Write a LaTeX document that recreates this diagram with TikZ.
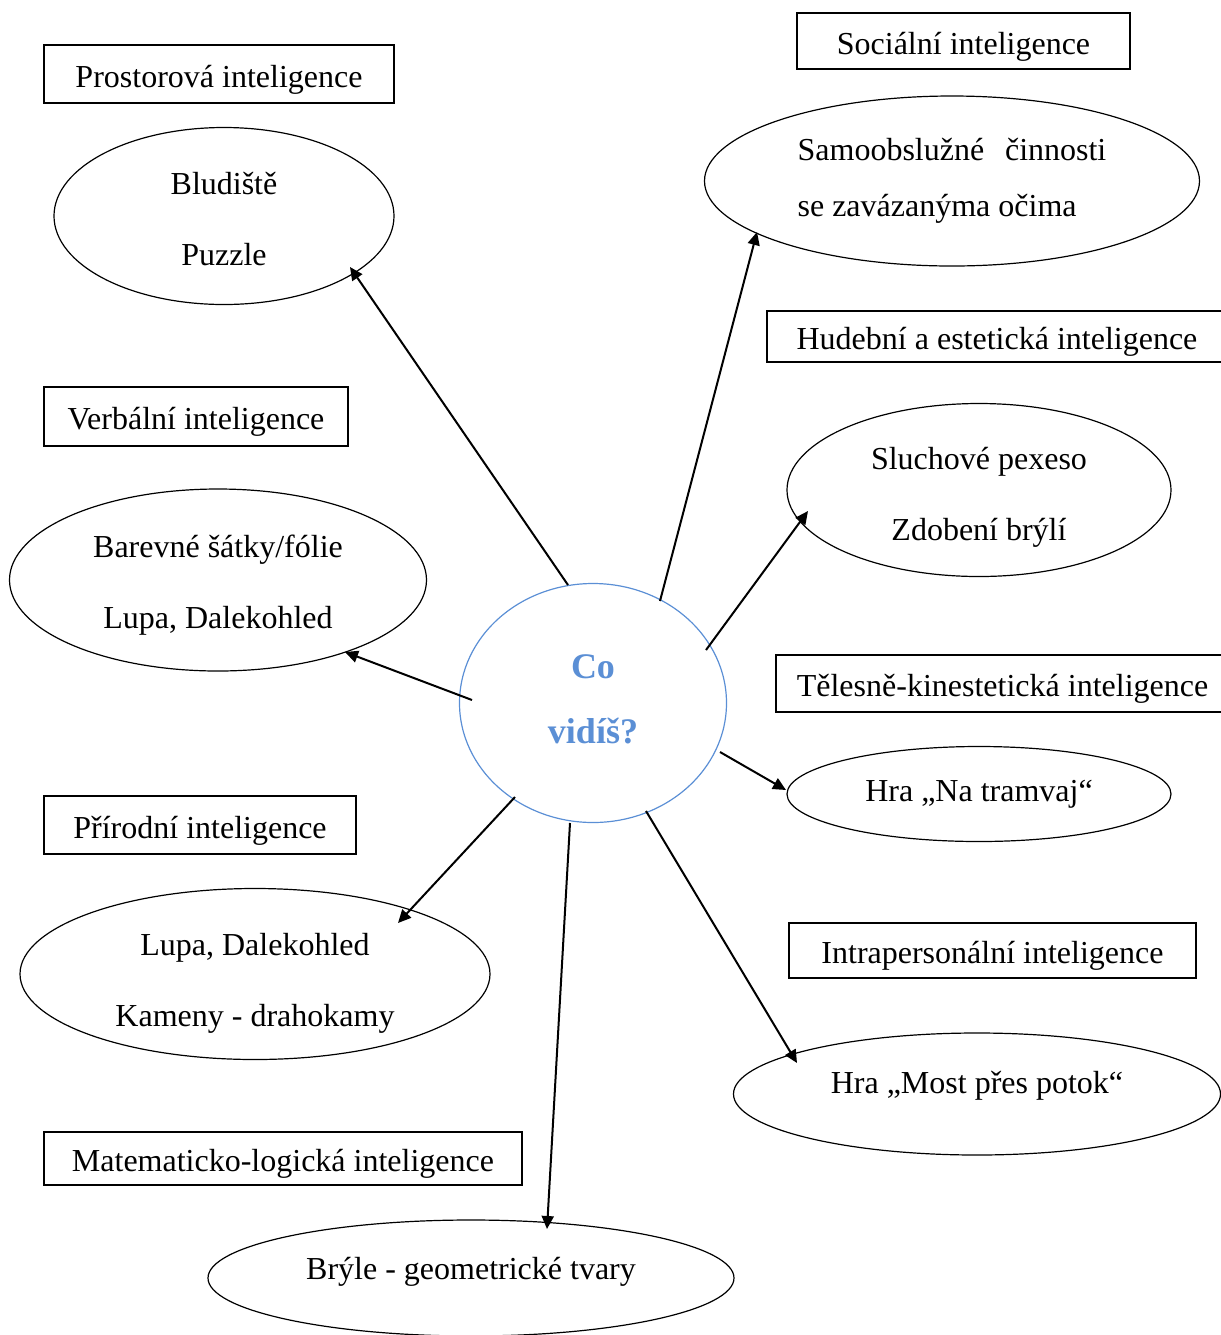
\documentclass[tikz,border=0pt]{standalone}
\usepackage{fontspec}
\setmainfont{Liberation Serif}
\usepackage{xcolor}
\usepackage{tikz}
\usetikzlibrary{shapes.geometric,arrows.meta,calc}
\definecolor{hubblue}{HTML}{5B8FD5}
\newcommand{\padtop}[1]{\rule{0pt}{#1}}
\newcommand{\padbot}[1]{\rule[-#1]{0pt}{#1}}

\begin{document}
\begin{tikzpicture}[x=0.5pt,y=-0.5pt,
  intel/.style={rectangle,draw,line width=0.75pt,inner sep=0pt,text height=16.5pt,text depth=3.5pt,font=\fontsize{16}{19}\selectfont},
  activity/.style={ellipse,draw,line width=0.6pt,inner sep=0pt,align=center,font=\fontsize{16}{35.5}\selectfont},
  hub/.style={ellipse,draw=hubblue,line width=0.6pt,inner sep=0pt,align=center,text=hubblue,font=\fontsize{18}{32.5}\selectfont\bfseries},
  arr/.style={-{Triangle[length=6.5pt,width=6pt]},line width=1pt}
]
\clip (0,0) rectangle (1221,1335);

% Centre
\node[hub,minimum width=133.5pt,minimum height=119.5pt] (co) at (593,703) {Co\\vidíš?\padbot{4pt}};

% Intelligences
\node[intel,minimum width=175pt,minimum height=29pt]   (pr) at (219,74)     {Prostorová inteligence};
\node[intel,minimum width=166.5pt,minimum height=28pt] (so) at (963.5,41)   {Sociální inteligence};
\node[intel,minimum width=230pt,minimum height=25.5pt] (hu) at (997,336.5)  {Hudební a estetická inteligence};
\node[intel,minimum width=152pt,minimum height=29.5pt] (ve) at (196,416.5)  {Verbální inteligence};
\node[intel,minimum width=226.5pt,minimum height=28.5pt] (te) at (1002.5,683.5) {Tělesně-kinestetická inteligence};
\node[intel,minimum width=156pt,minimum height=29pt]   (pi) at (200,825)    {Přírodní inteligence};
\node[intel,minimum width=203.5pt,minimum height=27.5pt] (ip) at (992.5,950.5) {Intrapersonální inteligence};
\node[intel,minimum width=239pt,minimum height=26.5pt] (ma) at (283,1158.5) {Matematicko-logická inteligence};

% Activities
\node[activity,minimum width=170pt,minimum height=88.5pt]   (bl) at (224,216)  {\padtop{14.5pt}Bludiště\\Puzzle};
\node[activity,minimum width=247.5pt,minimum height=85pt,align=left,font=\fontsize{16}{28}\selectfont] (sa) at (952,181)
  {Samoobslužné\hspace{0.65em}činnosti\\se zavázanýma očima};
\node[activity,minimum width=192pt,minimum height=86.5pt]   (sl) at (979,490)  {\padtop{18pt}Sluchové pexeso\\Zdobení brýlí};
\node[activity,minimum width=208.5pt,minimum height=91pt]   (ba) at (218,580)  {\padtop{16pt}Barevné šátky/fólie\\Lupa, Dalekohled};
\node[activity,minimum width=192pt,minimum height=47.5pt]   (tr) at (979,794)  {Hra „Na tramvaj“};
\node[activity,minimum width=235pt,minimum height=85.5pt]   (lu) at (255,974)  {\padtop{20pt}Lupa, Dalekohled\\Kameny - drahokamy};
\node[activity,minimum width=243.5pt,minimum height=61pt]   (mo) at (977,1094) {Hra „Most přes potok“\padbot{11.5pt}};
\node[activity,minimum width=263pt,minimum height=58pt]     (br) at (471,1278) {Brýle - geometrické tvary\padbot{9.5pt}};

% Arrows
\draw[arr] ($(co)+(-25,-118)$) -- ($(bl)+(126,51)$);
\draw[arr] ($(co)+(67,-102)$)  -- ($(sa)+(-195,51)$);
\draw[arr] ($(co)+(113,-53)$)  -- ($(sl)+(-171,21)$);
\draw[arr] ($(co)+(-121,-3)$)  -- ($(ba)+(127,72)$);
\draw[arr] ($(co)+(127,49)$)   -- ($(tr)+(-193,-4)$);
\draw[arr] ($(co)+(-78,94)$)   -- ($(lu)+(143,-51)$);
\draw[arr] ($(co)+(-23,120)$)  -- ($(br)+(76,-49)$);
\draw[arr] ($(co)+(53,108)$)   -- ($(mo)+(-180,-31)$);

\end{tikzpicture}
\end{document}
